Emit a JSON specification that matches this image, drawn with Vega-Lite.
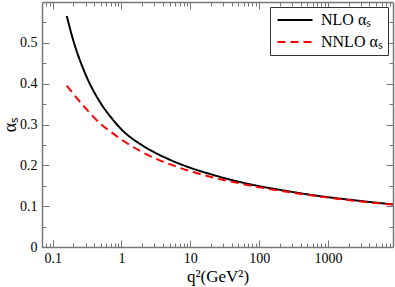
{
  "$schema": "https://vega.github.io/schema/vega-lite/v6.json",
  "width": 351,
  "height": 245,
  "autosize": "none",
  "padding": {"left": 42, "top": 2, "right": 2, "bottom": 40},
  "config": {
    "view": {"stroke": null},
    "font": "Liberation Serif",
    "axis": {
      "domainColor": "#777777",
      "domainWidth": 1.5,
      "tickColor": "#777777",
      "tickWidth": 1,
      "grid": false,
      "labelFont": "Liberation Serif",
      "labelFontSize": 14,
      "labelColor": "#000000",
      "titleFont": "Liberation Serif",
      "titleColor": "#000000",
      "titleFontWeight": "normal",
      "labelOverlap": false,
      "labelBound": false,
      "labelFlush": false
    }
  },
  "data": {
    "values": [
      {"q2": 0.16, "a": 0.566, "series": "NLO  αₛ"},
      {"q2": 0.2, "a": 0.505, "series": "NLO  αₛ"},
      {"q2": 0.3, "a": 0.423, "series": "NLO  αₛ"},
      {"q2": 0.5, "a": 0.352, "series": "NLO  αₛ"},
      {"q2": 0.7, "a": 0.318, "series": "NLO  αₛ"},
      {"q2": 1, "a": 0.288, "series": "NLO  αₛ"},
      {"q2": 2, "a": 0.249, "series": "NLO  αₛ"},
      {"q2": 3, "a": 0.232, "series": "NLO  αₛ"},
      {"q2": 5, "a": 0.214, "series": "NLO  αₛ"},
      {"q2": 10, "a": 0.194, "series": "NLO  αₛ"},
      {"q2": 20, "a": 0.178, "series": "NLO  αₛ"},
      {"q2": 50, "a": 0.16, "series": "NLO  αₛ"},
      {"q2": 100, "a": 0.149, "series": "NLO  αₛ"},
      {"q2": 200, "a": 0.14, "series": "NLO  αₛ"},
      {"q2": 500, "a": 0.129, "series": "NLO  αₛ"},
      {"q2": 1000, "a": 0.122, "series": "NLO  αₛ"},
      {"q2": 2000, "a": 0.116, "series": "NLO  αₛ"},
      {"q2": 5000, "a": 0.1086, "series": "NLO  αₛ"},
      {"q2": 8700, "a": 0.1045, "series": "NLO  αₛ"},
      {"q2": 0.16, "a": 0.395, "series": "NNLO αₛ"},
      {"q2": 0.2, "a": 0.375, "series": "NNLO αₛ"},
      {"q2": 0.3, "a": 0.34, "series": "NNLO αₛ"},
      {"q2": 0.5, "a": 0.301, "series": "NNLO αₛ"},
      {"q2": 0.7, "a": 0.282, "series": "NNLO αₛ"},
      {"q2": 1, "a": 0.263, "series": "NNLO αₛ"},
      {"q2": 2, "a": 0.2325, "series": "NNLO αₛ"},
      {"q2": 3, "a": 0.218, "series": "NNLO αₛ"},
      {"q2": 5, "a": 0.203, "series": "NNLO αₛ"},
      {"q2": 10, "a": 0.1855, "series": "NNLO αₛ"},
      {"q2": 20, "a": 0.1716, "series": "NNLO αₛ"},
      {"q2": 50, "a": 0.1564, "series": "NNLO αₛ"},
      {"q2": 100, "a": 0.1465, "series": "NNLO αₛ"},
      {"q2": 200, "a": 0.1379, "series": "NNLO αₛ"},
      {"q2": 500, "a": 0.1278, "series": "NNLO αₛ"},
      {"q2": 1000, "a": 0.121, "series": "NNLO αₛ"},
      {"q2": 2000, "a": 0.1149, "series": "NNLO αₛ"},
      {"q2": 5000, "a": 0.1076, "series": "NNLO αₛ"},
      {"q2": 8700, "a": 0.104, "series": "NNLO αₛ"}
    ]
  },
  "layer": [
    {
      "mark": {"type": "line", "strokeWidth": 2, "interpolate": "monotone", "clip": true},
      "encoding": {
        "x": {
          "field": "q2", "type": "quantitative",
          "scale": {"type": "log", "domain": [0.07, 8800], "nice": false},
          "axis": {
            "orient": "bottom",
            "title": "q²(GeV²)",
            "titleFontSize": 17,
            "titlePadding": 0,
            "values": [0.08, 0.09, 0.1, 0.2, 0.3, 0.4, 0.5, 0.6, 0.7, 0.8, 0.9, 1, 2, 3, 4, 5, 6, 7, 8, 9, 10, 20, 30, 40, 50, 60, 70, 80, 90, 100, 200, 300, 400, 500, 600, 700, 800, 900, 1000, 2000, 3000, 4000, 5000, 6000, 7000, 8000],
            "labelExpr": "abs(log(datum.value)/LN10 - round(log(datum.value)/LN10)) < 0.001 ? format(datum.value, '~g') : ''",
            "tickSize": {"condition": {"test": "abs(log(datum.value)/LN10 - round(log(datum.value)/LN10)) < 0.001", "value": -7}, "value": -4},
            "labelPadding": 11
          }
        },
        "y": {
          "field": "a", "type": "quantitative",
          "scale": {"domain": [0, 0.6], "nice": false, "zero": false},
          "axis": {
            "orient": "left",
            "title": "αₛ",
            "titleFontSize": 18,
            "titleAngle": -90,
            "titleX": -32,
            "titleY": 122,
            "titleAlign": "center",
            "titleBaseline": "middle",
            "values": [0, 0.05, 0.1, 0.15, 0.2, 0.25, 0.3, 0.35, 0.4, 0.45, 0.5, 0.55],
            "labelExpr": "abs(datum.value*10 - round(datum.value*10)) < 0.001 ? format(datum.value, '~g') : ''",
            "tickSize": {"condition": {"test": "abs(datum.value*10 - round(datum.value*10)) < 0.001", "value": -7}, "value": -4},
            "labelPadding": 12
          }
        },
        "color": {
          "field": "series", "type": "nominal",
          "scale": {"domain": ["NLO  αₛ", "NNLO αₛ"], "range": ["#000000", "#ff0000"]},
          "legend": {
            "title": null,
            "orient": "none",
            "legendX": 228,
            "legendY": 5,
            "strokeColor": "#333333",
            "fillColor": "#ffffff",
            "padding": 5,
            "symbolType": "M-3.5,0L3.5,0",
            "symbolSize": 100,
            "symbolStrokeWidth": 2,
            "symbolOffset": 12,
            "labelFont": "Liberation Serif",
            "labelFontSize": 16,
            "labelColor": "#000000",
            "labelOffset": 18,
            "rowPadding": 6
          }
        },
        "strokeDash": {
          "field": "series", "type": "nominal",
          "scale": {"domain": ["NLO  αₛ", "NNLO αₛ"], "range": [[1, 0], [8, 5]]},
          "legend": null
        }
      }
    },
    {
      "mark": {"type": "line", "opacity": 0},
      "encoding": {
        "x": {
          "field": "q2", "type": "quantitative",
          "axis": {
            "orient": "top",
            "title": null,
            "values": [0.08, 0.09, 0.1, 0.2, 0.3, 0.4, 0.5, 0.6, 0.7, 0.8, 0.9, 1, 2, 3, 4, 5, 6, 7, 8, 9, 10, 20, 30, 40, 50, 60, 70, 80, 90, 100, 200, 300, 400, 500, 600, 700, 800, 900, 1000, 2000, 3000, 4000, 5000, 6000, 7000, 8000],
            "labels": false,
            "tickSize": {"condition": {"test": "abs(log(datum.value)/LN10 - round(log(datum.value)/LN10)) < 0.001", "value": -7}, "value": -4}
          }
        },
        "y": {
          "field": "a", "type": "quantitative",
          "axis": {
            "orient": "right",
            "title": null,
            "values": [0, 0.05, 0.1, 0.15, 0.2, 0.25, 0.3, 0.35, 0.4, 0.45, 0.5, 0.55],
            "labels": false,
            "tickSize": {"condition": {"test": "abs(datum.value*10 - round(datum.value*10)) < 0.001", "value": -7}, "value": -4}
          }
        },
        "detail": {"field": "series", "type": "nominal"}
      }
    }
  ]
}
